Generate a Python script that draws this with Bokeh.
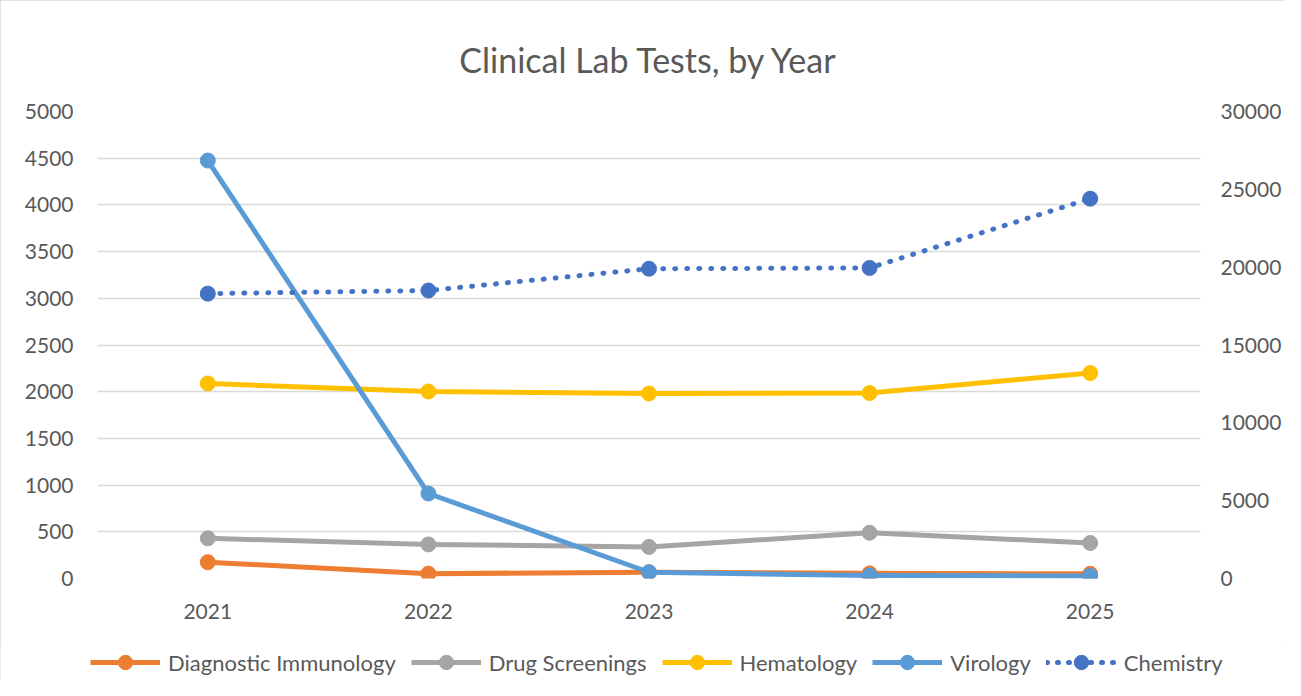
from bokeh.plotting import figure
from bokeh.layouts import column
from bokeh.models import Range1d, LinearAxis, Legend, LegendItem, FixedTicker, FactorRange
from bokeh.embed import file_html
from bokeh.resources import INLINE

years = ["2021", "2022", "2023", "2024", "2025"]
diagnostic_immunology = [175, 52, 67, 55, 50]
drug_screenings = [430, 365, 338, 490, 380]
hematology = [2088, 2002, 1981, 1986, 2200]
virology = [4475, 910, 67, 32, 28]
chemistry = [18300, 18500, 19900, 19950, 24400]

FONT = "Lato"
TXT = "#595959"

p = figure(x_range=FactorRange(*years), y_range=Range1d(0, 5000),
           width=1285, height=643, output_backend="svg", toolbar_location=None,
           min_border_left=97, min_border_right=85, min_border_top=111, min_border_bottom=65)
p.outline_line_color = None
p.background_fill_color = "white"
p.border_fill_color = "white"

p.title.text = "Clinical Lab Tests, by Year"
p.title.align = "center"
p.title.text_font = FONT
p.title.text_font_size = "34px"
p.title.text_font_style = "normal"
p.title.text_color = TXT
p.title.offset = 0
p.title.standoff = 63

p.extra_y_ranges = {"right": Range1d(0, 30000)}
raxis = LinearAxis(y_range_name="right", ticker=FixedTicker(ticks=list(range(0, 30001, 5000))))
p.add_layout(raxis, "right")

p.yaxis[0].ticker = FixedTicker(ticks=list(range(0, 5001, 500)))
for ax in [p.xaxis[0], p.yaxis[0], raxis]:
    ax.axis_line_color = None
    ax.major_tick_line_color = None
    ax.minor_tick_line_color = None
    ax.major_label_text_font = FONT
    ax.major_label_text_font_size = "21px"
    ax.major_label_text_color = TXT
p.xaxis[0].major_label_standoff = 19
p.yaxis[0].major_label_standoff = 18
raxis.major_label_standoff = 14

p.xgrid.grid_line_color = None
p.ygrid.grid_line_color = "#D9D9D9"
p.ygrid.grid_line_width = 1.5
p.ygrid.ticker = FixedTicker(ticks=list(range(0, 5001, 500)))

series = [
    ("Diagnostic Immunology", diagnostic_immunology, "#ED7D31"),
    ("Drug Screenings", drug_screenings, "#A5A5A5"),
    ("Hematology", hematology, "#FFC000"),
    ("Virology", virology, "#5B9BD5"),
]

# legend strip (separate figure below the chart); its proxy glyphs sit outside its y-range
lf = figure(width=1285, height=37, output_backend="svg", toolbar_location=None,
            x_range=FactorRange(*years), y_range=Range1d(-2, -1),
            min_border_left=0, min_border_right=0, min_border_top=0, min_border_bottom=0)
lf.frame_align = False
lf.axis.visible = False
lf.grid.visible = False
lf.outline_line_color = None
lf.background_fill_color = "white"
lf.border_fill_color = "white"

items = []
for name, vals, col in series:
    p.line(years, vals, line_color=col, line_width=5, line_join="round")
    p.scatter(years, vals, size=15, fill_color=col, line_color=col)
    l = lf.line(years, vals, line_color=col, line_width=5)
    s = lf.scatter(years, vals, size=15, fill_color=col, line_color=col)
    items.append(LegendItem(label=name, renderers=[l, s]))

p.line(years, chemistry, y_range_name="right", line_color="#4472C4", line_width=5,
       line_dash="1 11", line_cap="round")
p.scatter(years, chemistry, y_range_name="right", size=15, fill_color="#4472C4",
          line_color="#4472C4")
l = lf.line(years, chemistry, line_color="#4472C4", line_width=5, line_dash="1 10", line_cap="round")
s = lf.scatter(years, chemistry, size=15, fill_color="#4472C4", line_color="#4472C4")
items.append(LegendItem(label="Chemistry", renderers=[l, s]))

legend = Legend(items=items, orientation="horizontal", location=(90, 0),
                glyph_width=70, glyph_height=36, label_standoff=8, spacing=15,
                padding=0, margin=0, border_line_color=None, background_fill_alpha=0,
                label_text_font=FONT, label_text_font_size="22px", label_text_color=TXT)
lf.add_layout(legend, "center")

layout = column(p, lf, spacing=0)
layout.styles = {"outline": "1px solid #D9D9D9", "outline-offset": "-1px"}

open("out.html", "w").write(file_html(layout, INLINE))
